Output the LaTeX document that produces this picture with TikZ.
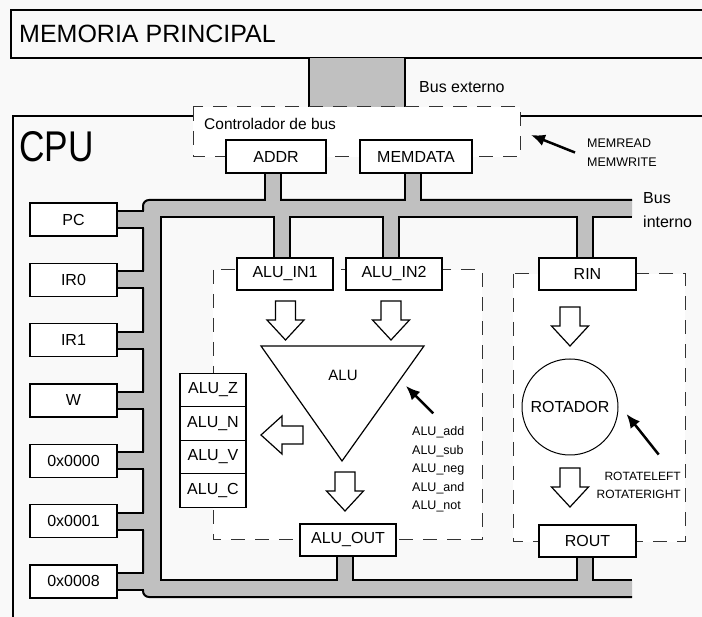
\documentclass[tikz,border=0pt]{standalone}
\usepackage{fontspec}
\setmainfont{Liberation Sans}
\usetikzlibrary{positioning,calc,arrows.meta}

\definecolor{pagegray}{HTML}{F9F9F9}
\definecolor{busgray}{HTML}{C0C0C0}

\tikzset{
	reg/.style={draw, fill=white, line width=1.4pt, inner sep=0pt, minimum width=87pt, minimum height=33pt, font=\fontsize{16}{18}\selectfont},
	unit/.style={reg, minimum width=96pt, minimum height=32pt},
	flag/.style={reg, outer sep=0pt, minimum width=66pt, minimum height=33.5pt},
	block/.style={draw=black!80, line width=1pt, dash pattern=on 14pt off 10pt, fill=white},
	busline/.style={line width=2pt},
	hollow/.style={draw, line width=1.2pt, fill=white},
	sig/.style={-{Latex[length=14pt,width=12pt]}, line width=2.5pt},
	small/.style={inner sep=0pt, font=\fontsize{12.5}{18.6}\selectfont},
	label/.style={inner sep=0pt, anchor=west, font=\fontsize{16}{24}\selectfont, align=left},
}

\begin{document}
\begin{tikzpicture}[x=1pt,y=-1pt]
	
	% Page
	\fill[pagegray] (0,0) rectangle (702,617);
	\useasboundingbox (0,0) rectangle (702,617);
	
	% Main memory and external bus
	\draw[line width=1.2pt] (11,10) rectangle (712,58);
	\node[label, font=\fontsize{25}{28}\selectfont] (mem) at (19,34) {MEMORIA PRINCIPAL};
	\fill[busgray] (309,58) rectangle (405,107);
	\draw[busline] (309,58) -- (309,107) (405,58) -- (405,107);
	\node[label] (extbus) at (419,87) {Bus externo};
	
	% CPU
	\draw[line width=1.2pt] (13,630) -- (13,116) -- (712,116);
	\node[label, font=\fontsize{43}{45}\selectfont] (cpu) at (19,147) {\scalebox{0.82}[1]{CPU}};
	
	% Dashed blocks
	\draw[block] (193,107) rectangle (520,157);
	\draw[block] (213,270) rectangle (482,540);
	\draw[block] (513,274) rectangle (685,542);
	\node[label, font=\fontsize{15.5}{18}\selectfont] (ctrl) at (204,124) {Controlador de bus};
	
	% Internal bus
	\fill[busgray] (632,200) -- (149,200) arc[start angle=270, end angle=180, radius=6] -- (143,591) arc[start angle=180, end angle=90, radius=6] -- (632,597) -- (632,580) -- (161,580) -- (161,217) -- (632,217) -- cycle;
	\draw[busline] (632,200) -- (149,200) arc[start angle=270, end angle=180, radius=6] -- (143,591) arc[start angle=180, end angle=90, radius=6] -- (632,597);
	\draw[busline] (632,217) -- (161,217) -- (161,580) -- (632,580);
	\node[label] (intbus) at (643,210) {Bus\\interno};
	
	% Registers
	\foreach \r [count=\i from 0] in {PC,IR0,IR1,W,0x0000,0x0001,0x0008} {
		\node[reg] (r\i) at (73.5,219.5+60.33*\i) {\r};
	}
	
	% Bus units
	\node[unit, minimum width=100pt, minimum height=33pt] (addr) at (276,156.5) {ADDR};
	\node[unit, minimum width=112pt, minimum height=33pt] (memdata) at (416,156.5) {MEMDATA};
	\node[unit] (aluin1) at (285,274) {ALU\_IN1};
	\node[unit] (aluin2) at (394,274) {ALU\_IN2};
	\node[unit, minimum width=97pt] (rin) at (587.5,274) {RIN};
	\node[unit] (aluout) at (348,540) {ALU\_OUT};
	\node[unit, minimum width=97pt] (rout) at (587.5,541) {ROUT};
	
	% Flags
	\node[flag] (fz) at (213,390) {ALU\_Z};
	\node[flag, below=0pt of fz] (fn) {ALU\_N};
	\node[flag, below=0pt of fn] (fv) {ALU\_V};
	\node[flag, below=0pt of fv] (fc) {ALU\_C};
	
	% Stubs to the bus
	\foreach \nd in {addr,memdata} {
		\fill[busgray] let \p1=(\nd.south), \p2=(0,200) in (\x1-11pt,\y1) rectangle (\x1+5pt,\y2-1.5pt);
		\draw[busline] let \p1=(\nd.south), \p2=(0,200) in (\x1-11pt,\y1) -- (\x1-11pt,\y2-1pt) (\x1+5pt,\y1) -- (\x1+5pt,\y2-1pt);
	}
	\foreach \nd in {aluin1,aluin2,rin} {
		\fill[busgray] let \p1=(\nd.north), \p2=(0,217) in (\x1-11pt,\y1) rectangle (\x1+5pt,\y2+1.5pt);
		\draw[busline] let \p1=(\nd.north), \p2=(0,217) in (\x1-11pt,\y1) -- (\x1-11pt,\y2+1pt) (\x1+5pt,\y1) -- (\x1+5pt,\y2+1pt);
	}
	\foreach \nd in {aluout,rout} {
		\fill[busgray] let \p1=(\nd.south), \p2=(0,580) in (\x1-11pt,\y1) rectangle (\x1+5pt,\y2-1.5pt);
		\draw[busline] let \p1=(\nd.south), \p2=(0,580) in (\x1-11pt,\y1) -- (\x1-11pt,\y2-1pt) (\x1+5pt,\y1) -- (\x1+5pt,\y2-1pt);
	}
	\foreach \i in {0,...,6} {
		\fill[busgray] let \p1=(r\i.east), \p2=(143,0) in (\x1,\y1-8.5pt) rectangle (\x2+1.5pt,\y1+8.5pt);
		\draw[busline] let \p1=(r\i.east), \p2=(143,0) in (\x1,\y1-8.5pt) -- (\x2+1pt,\y1-8.5pt) (\x1,\y1+8.5pt) -- (\x2+1pt,\y1+8.5pt);
	}
	
	% ALU and rotator
	\draw[line width=1.2pt] (261,346) -- (424,346) -- (342,461) -- cycle;
	\node[inner sep=0pt, font=\fontsize{15}{18}\selectfont] (alu) at (343,375) {ALU};
	\node[circle, draw, line width=1pt, inner sep=0pt, minimum size=96pt, font=\fontsize{16}{18}\selectfont] (rot) at (570,407) {ROTADOR};
	
	% Hollow arrows
	\foreach \x/\y in {285.5/301, 391/301, 570/307, 345/472, 570/468} {
		\draw[hollow] (\x-10,\y) -- (\x+10,\y) -- (\x+10,\y+19) -- (\x+18.5,\y+19) -- (\x,\y+39) -- (\x-18.5,\y+19) -- (\x-10,\y+19) -- cycle;
	}
	\draw[hollow] (303,426) -- (282,426) -- (282,416) -- (261,435) -- (282,454) -- (282,444) -- (303,444) -- cycle;
	
	% Control signals
	\node[small, anchor=west, align=left] (memsig) at (587,152.5) {MEMREAD\\MEMWRITE};
	\coordinate (memtip) at (531,135);
	\draw[sig] ([xshift=-12pt]memsig.west) -- (memtip);
	\node[small, anchor=west, align=left] (aluops) at (412,469.5) {ALU\_add\\ALU\_sub\\ALU\_neg\\ALU\_and\\ALU\_not};
	\draw[sig] ([xshift=-5pt,yshift=13pt]aluops.north) -- (406,386);
	\node[small, anchor=east, align=right, font=\fontsize{12}{18}\selectfont] (rotsig) at (681,485) {ROTATELEFT\\ROTATERIGHT};
	\draw[sig] ([xshift=20pt,yshift=17pt]rotsig.north) -- ([xshift=8pt,yshift=-7pt]rot.east);
	
\end{tikzpicture}
\end{document}
